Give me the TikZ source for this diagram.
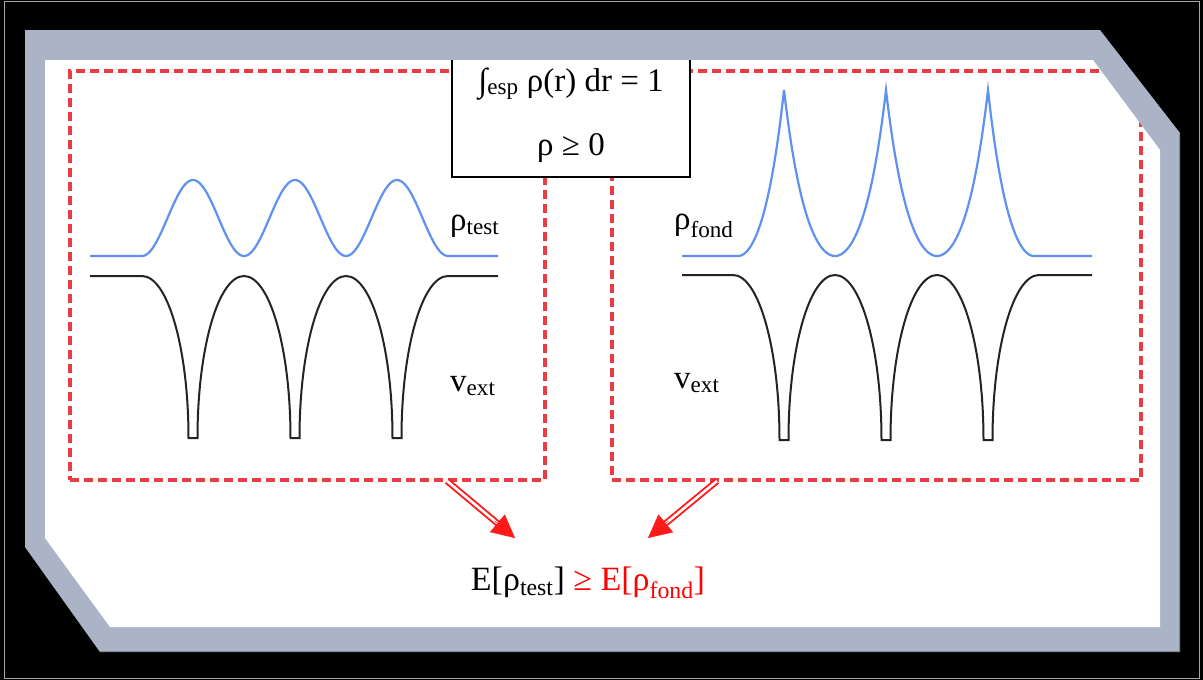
\documentclass[tikz,border=0pt]{standalone}
\usepackage{fontspec}
\setmainfont{Liberation Serif}
\usetikzlibrary{arrows.meta,calc}
\definecolor{framegray}{RGB}{170,180,198}
\definecolor{dashred}{RGB}{235,60,68}
\definecolor{arrred}{RGB}{255,25,25}
\definecolor{rhoblue}{RGB}{95,145,240}
\definecolor{vgray}{RGB}{35,35,35}
\tikzset{
  dashbox/.style={draw=dashred, line width=3.2pt, dash pattern=on 9pt off 5pt, inner sep=0pt},
  formbox/.style={draw=black, line width=2pt, fill=white, inner sep=0pt, align=center,
    font=\fontsize{33}{64}\selectfont},
  rho/.style={draw=rhoblue, line width=2.2pt},
  vcurve/.style={draw=vgray, line width=2pt},
  lbl/.style={font=\fontsize{33}{38}\selectfont, inner sep=0pt, anchor=west},
  dblshaft/.style={draw=arrred, line width=1.9pt, double=white, double distance=2.6pt},
  arrhead/.style={draw=arrred, line width=0.4pt, -{Triangle[length=23pt,width=23pt]}},
  restext/.style={font=\fontsize{34}{40}\selectfont, inner sep=0pt}
}
\begin{document}
\begin{tikzpicture}[x=1pt,y=-1pt]
\useasboundingbox (0,0) rectangle (1203,680);
\fill[black] (0,0) rectangle (1203,680);
\draw[gray!70, line width=1pt] (4,1.5) rectangle (1199,678.5);
% frame
\fill[framegray] (25,30) -- (1100,30) -- (1180,133) -- (1180,652) -- (100,652) -- (25,547) -- cycle;
\draw[framegray!75!black, line width=1.2pt] (100,651.5) -- (1179.5,651.5) -- (1179.5,134);
\fill[white] (45,60) -- (1093,60) -- (1160,150) -- (1160,627) -- (110,627) -- (45,538) -- cycle;
\begin{scope}
\clip (45,60) -- (1093,60) -- (1160,150) -- (1160,627) -- (110,627) -- (45,538) -- cycle;
\node[dashbox, minimum width=475pt, minimum height=409pt] (lbox) at (307.5,275.5) {};
\node[dashbox, minimum width=529pt, minimum height=409pt] (rbox) at (876.5,275.5) {};
% left density
\draw[rho] (90,256) -- (142,256) -- plot[domain=142:448, samples=150] (\x, {256-38*(1-cos(3.52941*(\x-142)))}) -- (498,256);
% left potential
\draw[vcurve] (90,276) -- (142,276)
  \foreach \c in {193,295,397}{ .. controls (\c-25.3,276) and (\c-4.5,348.5) .. (\c-4.5,438) -- (\c+4.5,438) .. controls (\c+4.5,348.5) and (\c+25.3,276) .. (\c+51,276) } -- (498,276);
% right density
\draw[rho] (682,256) -- (738,256)
  -- plot[domain=738:784, samples=50] (\x, {256-166*(cosh(0.04*(\x-738))-1)/(cosh(0.04*46)-1)})
  -- plot[domain=784:886, samples=100] (\x, {256-166*(cosh(0.04*(\x-835))-1)/(cosh(0.04*51)-1)})
  -- plot[domain=886:988, samples=100] (\x, {256-166*(cosh(0.04*(\x-937))-1)/(cosh(0.04*51)-1)})
  -- plot[domain=988:1034, samples=50] (\x, {256-166*(cosh(0.04*(1034-\x))-1)/(cosh(0.04*46)-1)})
  -- (1092,256);
% right potential
\draw[vcurve] (682,275) -- (733,275)
  \foreach \c in {784,886,988}{ .. controls (\c-25.3,275) and (\c-4.5,349) .. (\c-4.5,440) -- (\c+4.5,440) .. controls (\c+4.5,349) and (\c+25.3,275) .. (\c+51,275) } -- (1092,275);
% constraint box
\node[formbox, minimum width=238pt, minimum height=124pt] (cons) at (571,115) {∫\textsubscript{esp} ρ(r) dr = 1\\ ρ ≥ 0};
\end{scope}
% labels
\node[lbl] (rt) at (450,226) {ρ\textsubscript{test}};
\node[lbl] (vl) at (450,386) {v\textsubscript{ext}};
\node[lbl] (rf) at (674,226) {ρ\textsubscript{fond}};
\node[lbl] (vr) at (674,383) {v\textsubscript{ext}};
% result
\node[restext] (res) at (588,583) {E[ρ\textsubscript{test}] \textcolor{red}{≥ E[ρ\textsubscript{fond}]}};
% arrows
\coordinate (a1s) at (447,481);
\coordinate (a1t) at (515,538);
\coordinate (a2s) at (717,481);
\coordinate (a2t) at (648,538);
\draw[dblshaft] (a1s) -- ($(a1s)!0.8!(a1t)$);
\draw[arrhead] ($(a1s)!0.7!(a1t)$) -- (a1t);
\draw[dblshaft] (a2s) -- ($(a2s)!0.8!(a2t)$);
\draw[arrhead] ($(a2s)!0.7!(a2t)$) -- (a2t);
\end{tikzpicture}
\end{document}
